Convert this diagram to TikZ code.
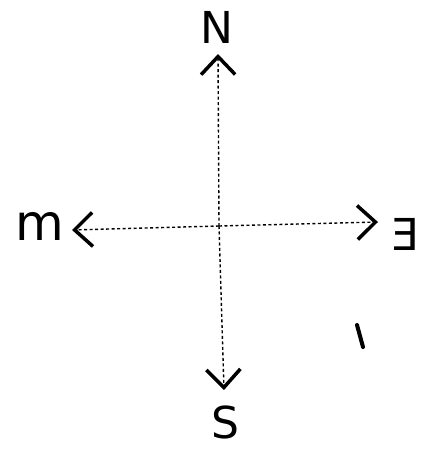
\documentclass[tikz,border=0pt]{standalone}
\usepackage{fontspec}
\setmainfont{DejaVu Sans}
\usepackage{graphicx}
\usetikzlibrary{arrows.meta,positioning}

\begin{document}
\begin{tikzpicture}[
  x=1pt, y=-1pt,
  letter/.style={inner sep=0pt, font=\fontsize{44}{44}\selectfont},
  axis/.style={line width=1.4pt, dash pattern=on 3pt off 2.5pt, draw=black,
    -{Straight Barb[length=18pt, width=34pt, line width=3.5pt]}},
  pen/.style={line width=4pt, line cap=round}
]
  \useasboundingbox (0,0) rectangle (431,450);

  % centre and tip points
  \coordinate (origin) at (219,226);
  \coordinate (ntip) at (218,54);
  \coordinate (stip) at (224,390);
  \coordinate (wtip) at (72,230);
  \coordinate (etip) at (378,222);

  \node[letter] (north) at (217,27) {N};
  \node[letter] (south) at (225,422) {S};
  \node[letter, font=\fontsize{50}{50}\selectfont] (west) at (40,226) {m};
  \node[letter] (east) at (406,234) {\reflectbox{E}};

  \draw[axis] (origin) -- (ntip);
  \draw[axis] (origin) -- (stip);
  \draw[axis] (origin) -- (wtip);
  \draw[axis] (origin) -- (etip);

  % stray mark
  \draw[pen] (357,325) -- (363,347);
\end{tikzpicture}
\end{document}
